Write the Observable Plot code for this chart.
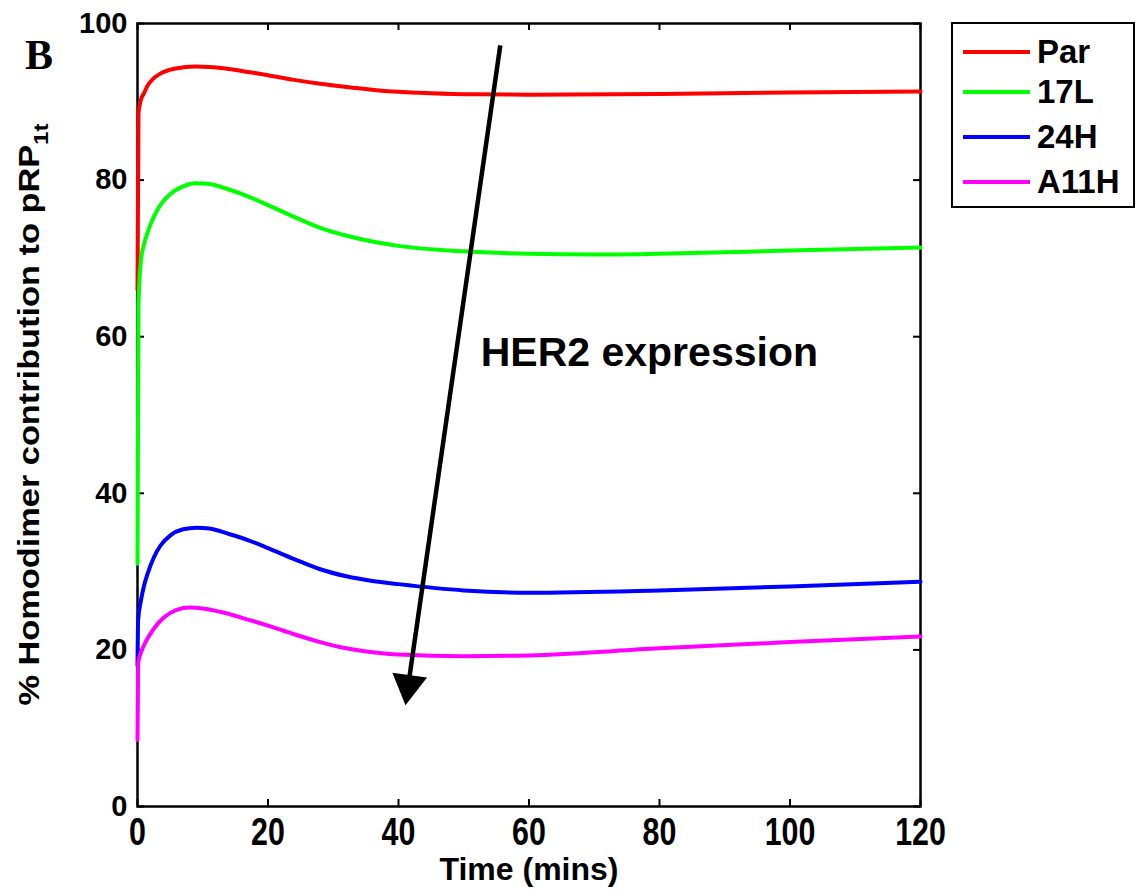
<!DOCTYPE html>
<html><head><meta charset="utf-8">
<script src="https://cdn.jsdelivr.net/npm/d3@7"></script>
<script src="https://cdn.jsdelivr.net/npm/@observablehq/plot@0.6"></script>
<style>
body{margin:0;background:#fff;}
#wrap{position:relative;width:1138px;height:895px;font-family:"Liberation Sans",Arial,sans-serif;}
#legend{position:absolute;left:951px;top:22px;width:184px;height:186px;border:2.5px solid #000;box-sizing:border-box;background:#fff;}
.row{position:absolute;left:10px;height:40px;display:flex;align-items:center;}
.sw{display:inline-block;width:67px;height:4px;margin-right:7px;}
.lab{font-weight:bold;font-size:33px;line-height:40px;color:#000;}
</style></head>
<body><div id="wrap"><div id="legend"></div></div>
<script>
// ---- data ----
const seriesNames = ["Par", "17L", "24H", "A11H"];
const seriesColors = ["#ff0000", "#00ff00", "#0000ff", "#ff00ff"];

const parT = [0, 0.15, 0.5, 1, 1.5, 2.5, 3.5, 5, 7, 9, 11, 14, 17, 20, 24, 28, 33, 37, 45, 52, 60, 80, 100, 120];
const parV = [66, 88.5, 90.2, 91.1, 92.0, 93.0, 93.6, 94.1, 94.4, 94.5, 94.45, 94.2, 93.8, 93.4, 92.8, 92.3, 91.8, 91.45, 91.1, 90.95, 90.9, 91.0, 91.2, 91.3];

const l17T = [0, 0.15, 0.5, 1, 1.5, 2.5, 3.5, 5, 7, 9, 11, 14, 17, 20, 24, 28, 33, 40, 50, 60, 70, 80, 100, 120];
const l17V = [31, 64, 69.5, 71.8, 73.2, 75.3, 76.8, 78.2, 79.2, 79.6, 79.5, 78.8, 77.9, 76.8, 75.3, 73.9, 72.7, 71.6, 70.9, 70.6, 70.5, 70.6, 71.0, 71.4];

const h24T = [0, 0.1, 0.5, 1, 1.5, 2.5, 3.5, 5, 7, 9, 11, 14, 17, 20, 24, 28, 32, 36, 40, 50, 60, 80, 100, 120];
const h24V = [18, 23.8, 26.2, 28.2, 29.6, 31.8, 33.3, 34.6, 35.4, 35.6, 35.5, 34.8, 34.0, 33.0, 31.6, 30.3, 29.4, 28.8, 28.4, 27.6, 27.3, 27.6, 28.1, 28.7];

const a11T = [0, 0.1, 0.5, 1, 2.5, 4, 6, 8, 10, 13, 16, 20, 24, 28, 32, 36, 40, 50, 60, 80, 100, 120];
const a11V = [8.5, 18.3, 19.6, 20.6, 22.7, 24.1, 25.1, 25.4, 25.3, 24.8, 24.1, 23.1, 22.0, 21.0, 20.2, 19.7, 19.4, 19.2, 19.3, 20.2, 21.0, 21.7];

const xTicks = [0, 20, 40, 60, 80, 100, 120];
const yTicks = [0, 20, 40, 60, 80, 100];

const arrowFrom = {t: 55.6, v: 97.2};
const arrowTo = {t: 41.5, v: 15.5};
const annotation = {t: 52.6, v: 57.9, text: "HER2 expression"};

const xLabel = "Time (mins)";
const yLabelMain = "% Homodimer contribution to pRP";
const yLabelSub = "1t";
const panelLetter = "B";

// ---- build table ----
const seriesT = [parT, l17T, h24T, a11T];
const seriesV = [parV, l17V, h24V, a11V];
const rows = [];
seriesNames.forEach((s, i) => seriesT[i].forEach((t, j) => rows.push({series: s, t, v: seriesV[i][j]})));

const W = 1138, H = 895, mL = 137, mR = 218, mT = 23, mB = 89;
const fw = W - mL - mR, fh = H - mT - mB;
const tick = 7;

const chart = Plot.plot({
  width: W, height: H,
  marginLeft: mL, marginRight: mR, marginTop: mT, marginBottom: mB,
  style: {fontFamily: "'Liberation Sans', Arial, sans-serif", color: "#000", background: "#fff"},
  x: {domain: [0, 120]},
  y: {domain: [0, 100]},
  color: {domain: seriesNames, range: seriesColors},
  marks: [
    Plot.frame({stroke: "#000", strokeWidth: 2.5}),
    Plot.tickX(xTicks, {x: d => d, insetTop: fh - tick, stroke: "#000", strokeWidth: 2}),
    Plot.tickX(xTicks, {x: d => d, insetBottom: fh - tick, stroke: "#000", strokeWidth: 2}),
    Plot.tickY(yTicks, {y: d => d, insetRight: fw - tick, stroke: "#000", strokeWidth: 2}),
    Plot.tickY(yTicks, {y: d => d, insetLeft: fw - tick, stroke: "#000", strokeWidth: 2}),
    Plot.axisX({ticks: xTicks, tickSize: 0, tickPadding: 12, fontSize: 38, fontWeight: "bold", label: null}),
    Plot.axisY({ticks: yTicks, tickSize: 0, tickPadding: 10, fontSize: 29, fontWeight: "bold", label: null}),
    Plot.line(rows, {x: "t", y: "v", z: "series", stroke: "series", strokeWidth: 4, curve: "monotone-x"}),
    Plot.link([0], {x1: () => arrowFrom.t, y1: () => arrowFrom.v, x2: () => arrowTo.t, y2: () => arrowTo.v, stroke: "#000", strokeWidth: 4.5}),
    Plot.dot([arrowTo], {x: "t", y: "v", symbol: "triangle", r: 13, fill: "#000", stroke: null, rotate: 188}),
    Plot.text([annotation], {x: "t", y: "v", text: "text", textAnchor: "start", lineAnchor: "middle", fontSize: 41, fontWeight: "bold", fill: "#000"}),
    Plot.text([xLabel], {text: d => d, frameAnchor: "bottom", dy: 51, lineAnchor: "top", fontSize: 32, fontWeight: "bold", fill: "#000"})
  ]
});

const wrap = document.getElementById("wrap");
wrap.insertBefore(chart, wrap.firstChild);

const svg = d3.select(chart);
// y axis label with subscript
const yl = svg.append("text")
  .attr("transform", `translate(39,${mT + fh / 2}) rotate(-90)`)
  .attr("text-anchor", "middle")
  .attr("font-size", 30)
  .attr("font-weight", "bold")
  .attr("fill", "#000");
yl.append("tspan").text(yLabelMain);
yl.append("tspan").attr("font-size", 21).attr("dy", 9).text(yLabelSub);
yl.attr("textLength", 582).attr("lengthAdjust", "spacingAndGlyphs");

// panel letter
svg.append("text").attr("x", 39).attr("y", 69)
  .attr("font-family", "'Liberation Serif', 'Times New Roman', serif")
  .attr("font-weight", "bold").attr("font-size", 42).attr("fill", "#000").text(panelLetter);

// condense x tick labels (tall narrow appearance)
svg.selectAll('g[aria-label="x-axis tick label"] text').each(function() {
  const len = this.getComputedTextLength();
  d3.select(this).attr("textLength", len * 0.8).attr("lengthAdjust", "spacingAndGlyphs");
});

// legend
const leg = d3.select("#legend");
const rowTops = [8, 48, 93, 138];
seriesNames.forEach((s, i) => {
  const r = leg.append("div").attr("class", "row").style("top", rowTops[i] + "px");
  r.append("span").attr("class", "sw").style("background", seriesColors[i]);
  r.append("span").attr("class", "lab").text(s);
});
</script>
</body></html>
